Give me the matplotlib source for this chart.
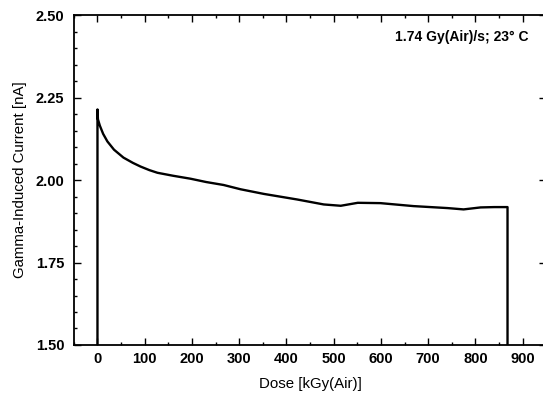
import matplotlib.pyplot as plt
from matplotlib.ticker import MultipleLocator

# Corriente inducida por gamma frente a dosis acumulada
dose = [0, 0, 1, 5, 12, 21, 35, 55, 75, 91, 110, 127, 160, 197, 230, 267,
        303, 352, 423, 479, 515, 551, 599, 669, 741, 775, 811, 840, 868, 868]
current = [1.50, 2.214, 2.184, 2.165, 2.140, 2.117, 2.092, 2.068, 2.052, 2.041,
           2.030, 2.022, 2.013, 2.004, 1.994, 1.985, 1.972, 1.958, 1.941, 1.926,
           1.922, 1.931, 1.930, 1.921, 1.915, 1.911, 1.917, 1.918, 1.918, 1.50]

x_ticks = [0, 100, 200, 300, 400, 500, 600, 700, 800, 900]
y_ticks = [1.50, 1.75, 2.00, 2.25, 2.50]

plt.rcParams['font.family'] = ['Liberation Sans', 'DejaVu Sans']

fig = plt.figure(figsize=(5.43, 3.97), dpi=100)
ax = fig.add_axes([0.136, 0.131, 0.870, 0.831])

ax.plot(dose, current, color="black", lw=1.7)

ax.set_xlim(-50, 950)
ax.set_ylim(1.5, 2.5)
ax.set_xticks(x_ticks)
ax.set_yticks(y_ticks)
ax.set_yticklabels([f"{v:.2f}" for v in y_ticks])
ax.xaxis.set_minor_locator(MultipleLocator(50))
ax.yaxis.set_minor_locator(MultipleLocator(0.05))
ax.tick_params(which="both", direction="in", top=True, right=True,
               labelsize=10.5, width=1.0)
ax.tick_params(which="major", length=5)
ax.tick_params(which="minor", length=2.5)
ax.tick_params(axis="y", pad=7)
ax.tick_params(axis="x", pad=5)
for lab in ax.get_xticklabels() + ax.get_yticklabels():
    lab.set_fontweight("bold")
for s in ax.spines.values():
    s.set_linewidth(1.3)

ax.set_xlabel("Dose [kGy(Air)]", fontsize=10.8, labelpad=8)
ax.set_ylabel("Gamma-Induced Current [nA]", fontsize=10.8, labelpad=6)
ax.text(0.962, 0.955, "1.74 Gy(Air)/s; 23° C", transform=ax.transAxes,
        ha="right", va="top", fontsize=10, fontweight="bold")

fig.savefig("out.png", dpi=100)
